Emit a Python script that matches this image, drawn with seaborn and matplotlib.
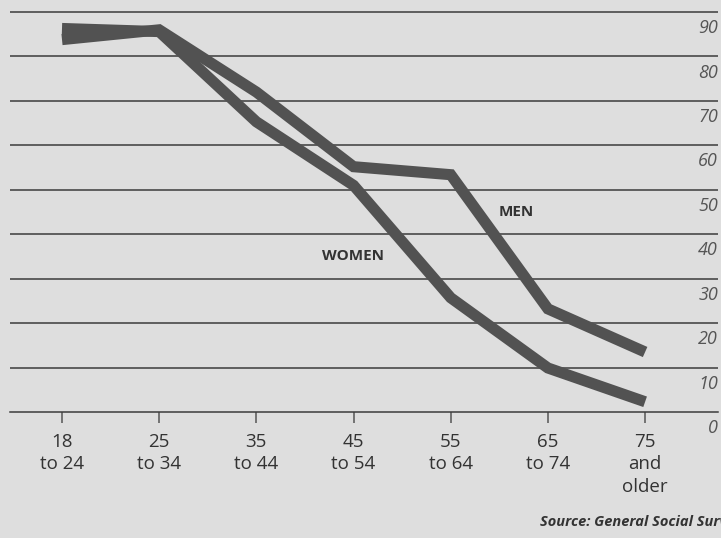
import matplotlib as mpl
import matplotlib.pyplot as plt
import matplotlib.transforms as mtransforms
import numpy as np
import pandas as pd
import seaborn as sns

age_groups = ["18\nto 24", "25\nto 34", "35\nto 44", "45\nto 54",
              "55\nto 64", "65\nto 74", "75\nand\nolder"]
men = [83.8, 86.0, 72.0, 55.2, 53.4, 23.2, 13.5]
women = [86.3, 85.6, 65.3, 51.0, 25.7, 9.9, 2.3]
y_ticks = [0, 10, 20, 30, 40, 50, 60, 70, 80, 90]

BG = "#dedede"
LINE = "#525252"
GRID = "#3c3c3c"
TEXT = "#333333"

sns.set_style("white")
plt.rcParams["font.family"] = ["Open Sans", "DejaVu Sans"]

df = pd.DataFrame({
    "pos": list(range(len(age_groups))) * 2,
    "pct": men + women,
    "sex": ["Men"] * len(men) + ["Women"] * len(women),
})

fig = plt.figure(figsize=(7.21, 5.38), dpi=100, facecolor=BG)
ax = fig.add_axes([10 / 721, 1 - 412 / 538, 708 / 721, 404.4 / 538])
ax.set_facecolor(BG)

# gridlines first so the thick lines sit on top
for v in y_ticks[1:]:
    ax.axhline(v, color=GRID, linewidth=1.1, zorder=1)

sns.lineplot(
    data=df, x="pos", y="pct", hue="sex",
    palette={"Men": LINE, "Women": LINE},
    linewidth=8, legend=False, ax=ax, zorder=3,
)
for line in ax.lines:
    line.set_solid_capstyle("butt")
    line.set_solid_joinstyle("miter")

ax.set_xlim(-0.535, 6.75)
ax.set_ylim(0, 91)

for side in ["top", "right", "left"]:
    ax.spines[side].set_visible(False)
ax.spines["bottom"].set_color(GRID)
ax.spines["bottom"].set_linewidth(1.1)

ax.set_xticks(range(len(age_groups)))
ax.set_xticklabels(age_groups, fontsize=13.5, color=TEXT, linespacing=1.32)
ax.tick_params(axis="x", length=8, width=1.1, color="#555555", pad=7,
               direction="out", bottom=True)
ax.set_yticks([])
ax.set_xlabel("")
ax.set_ylabel("")

trans = mtransforms.blended_transform_factory(ax.transAxes, ax.transData)
for v in y_ticks:
    ax.text(1.0, v - 1.6, str(v), transform=trans, ha="right", va="top",
            fontsize=13, style="italic", color="#555555")

ax.text(4.67, 45, "MEN", fontsize=11, fontweight="bold", color=TEXT,
        ha="center", va="center")
ax.text(2.99, 35.1, "WOMEN", fontsize=11, fontweight="bold", color=TEXT,
        ha="center", va="center")

fig.text(540 / 721, 1 - 522 / 538, "Source: General Social Survey",
         fontsize=10.5, style="italic", fontweight="bold", color=TEXT,
         ha="left", va="center")

fig.savefig("out.png", dpi=100, facecolor=BG)
